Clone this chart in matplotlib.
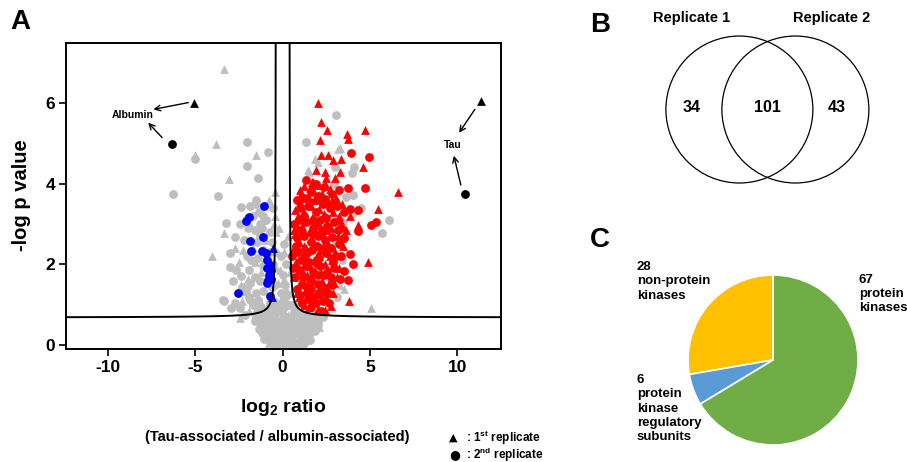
import numpy as np
import matplotlib
matplotlib.use("Agg")
import matplotlib.pyplot as plt
from matplotlib.patches import Circle

plt.rcParams['font.family'] = ['Liberation Sans', 'DejaVu Sans']
plt.rcParams['font.weight'] = 'bold'
plt.rcParams['axes.unicode_minus'] = False
plt.rcParams['mathtext.fontset'] = 'custom'
plt.rcParams['mathtext.rm'] = 'Liberation Sans:bold'
plt.rcParams['mathtext.it'] = 'Liberation Sans:bold'
plt.rcParams['mathtext.bf'] = 'Liberation Sans:bold'

# ---------------- Volcano data (log2 ratio, -log p) ----------------
# red = enriched with Tau, blue = enriched with albumin, gray = not significant
# triangles = 1st replicate, circles = 2nd replicate
red_tri_x = [2.02, 2.21, 2.53, 3.70, 3.73, 4.74, 2.15, 2.21, 2.59, 2.87, 3.35, 3.26, 2.40, 1.92, 4.59,
             2.50, 2.97, 1.73, 6.59, 0.97, 1.31, 0.69, 5.45, 4.30, 4.88, 3.79, 0.65, 1.66,
             1.20, 1.55, 2.05, 2.70, 1.00, 1.45, 1.80, 2.25, 2.60, 3.05, 3.40,
             0.85, 1.25, 1.70, 2.10, 2.45, 2.90, 3.30, 3.85,
             0.70, 1.10, 1.50, 1.90, 2.30, 2.75, 3.15, 3.60,
             0.60, 0.95, 1.35, 1.75, 2.15, 2.60, 3.00, 3.45,
             0.75, 1.15, 1.55, 1.95, 2.40, 2.80, 3.25,
             0.65, 1.00, 1.40, 1.80, 2.20, 2.65, 3.10,
             0.95, 1.30, 1.70, 2.10, 2.50, 2.90,
             1.50, 2.00, 2.40, 2.75,
             1.05, 1.65, 2.00, 2.35, 2.80, 1.40, 0.90, 1.60, 2.05, 2.50, 3.20, 1.20, 1.80,
             2.25, 2.70, 1.10, 1.50, 1.90, 0.80, 2.35, 1.25, 3.35, 2.95, 1.70, 2.40]
red_tri_y = [6.00, 5.53, 5.33, 5.24, 5.12, 5.33, 5.09, 4.71, 4.71, 4.59, 4.63, 4.30, 4.30, 4.34, 4.41,
             4.14, 4.14, 4.05, 3.80, 3.85, 3.64, 3.35, 3.37, 2.98, 2.05, 1.10, 2.85, 4.04,
             3.95, 3.90, 3.98, 3.88, 3.55, 3.70, 3.60, 3.75, 3.55, 3.65, 3.50,
             3.20, 3.30, 3.15, 3.38, 3.20, 3.30, 3.10, 3.20,
             2.75, 2.95, 2.80, 2.98, 2.75, 2.90, 2.70, 2.85,
             2.35, 2.55, 2.40, 2.58, 2.35, 2.50, 2.30, 2.45,
             2.05, 2.15, 1.95, 2.20, 2.00, 2.12, 1.90,
             1.70, 1.55, 1.75, 1.60, 1.78, 1.55, 1.70,
             1.20, 1.35, 1.15, 1.38, 1.20, 1.30,
             0.95, 0.90, 0.88, 0.97,
             3.75, 3.45, 3.05, 3.25, 3.60, 3.10, 2.90, 2.65, 2.45, 2.85, 3.20, 2.45, 2.10,
             1.60, 2.20, 1.85, 1.50, 1.30, 1.30, 1.35, 1.00, 2.65, 1.55, 3.90, 4.00]

red_circ_x = [3.92, 4.97, 3.73, 4.72, 3.83, 4.30, 5.35, 5.07, 3.54, 3.83, 4.02, 3.73, 4.30, 3.49,
              1.35, 1.90, 2.35, 0.80, 1.20, 1.60, 2.00, 2.45, 2.85, 3.20,
              1.00, 1.45, 1.90, 2.30, 2.70, 3.10, 3.50,
              0.65, 0.95, 1.35, 1.75, 2.15, 2.55, 2.95, 3.35,
              0.80, 1.20, 1.60, 2.00, 2.40, 2.80, 3.20,
              0.55, 0.90, 1.30, 1.70, 2.10, 2.50, 2.90, 3.35,
              0.60, 0.95, 1.35, 1.75, 2.15, 2.55, 2.95, 3.30,
              0.80, 1.20, 1.60, 2.00, 2.40, 2.80,
              1.10, 1.45, 1.90, 2.30, 2.65, 2.20,
              1.55, 2.15, 1.25, 1.75, 2.50, 1.10, 1.85, 2.25, 1.45, 1.95, 2.30, 2.75, 1.05,
              1.50, 1.95, 2.35, 1.15, 1.55, 2.00, 2.75, 1.00, 1.40, 1.75, 2.15, 2.60, 1.65,
              0.75, 0.70, 3.05, 3.15]
red_circ_y = [4.76, 4.67, 3.89, 3.89, 3.37, 3.35, 3.06, 2.98, 2.65, 2.27, 2.00, 1.61, 2.83, 1.83,
              4.10, 4.00, 3.92, 3.60, 3.65, 3.80, 3.70, 3.62, 3.75, 3.85,
              3.40, 3.45, 3.30, 3.50, 3.40, 3.45, 3.30,
              3.00, 3.10, 3.05, 2.90, 3.10, 2.95, 3.05, 2.90,
              2.65, 2.70, 2.55, 2.70, 2.60, 2.68, 2.50,
              2.20, 2.30, 2.20, 2.35, 2.15, 2.28, 2.05, 2.20,
              1.90, 1.85, 1.95, 1.80, 1.95, 1.80, 1.90, 1.65,
              1.40, 1.50, 1.40, 1.52, 1.42, 1.48,
              1.05, 1.15, 1.05, 1.10, 1.05, 0.85,
              3.55, 3.60, 3.20, 3.10, 3.15, 2.80, 2.75, 2.85, 2.30, 2.45, 2.40, 2.40, 2.10,
              2.05, 2.00, 1.75, 1.70, 1.65, 1.75, 1.70, 1.25, 1.30, 1.20, 1.25, 1.30, 0.95,
              2.45, 1.70, 2.20, 2.85]

blue_circ_x = [-2.53, -1.09, -1.92, -2.07, -1.12, -1.89, -1.79, -1.16, -0.97, -0.90, -0.74, -0.90,
               -0.65, -0.78, -0.84, -0.65, -0.90, -0.74]
blue_circ_y = [1.30, 3.46, 3.18, 3.08, 2.69, 2.59, 2.33, 2.34, 2.29, 2.11, 1.99, 1.90,
               1.86, 1.74, 1.61, 1.65, 1.55, 1.22]
blue_tri_x = [-0.55, -0.60]
blue_tri_y = [2.40, 1.20]

gray_tri_x = [-3.33, -3.83, -4.99, -3.09, -3.33, -4.06, -1.54, -0.46, -0.78, -2.36, -1.98, -2.46,
              -1.80, -1.00, -1.70, -2.50, -1.25, -0.85, -2.00, -1.35, -0.65, -1.90, -2.70, -0.50,
              1.83, 3.16, 1.45, 5.07, 3.26, 2.20, 1.50, 3.00, 3.50, 2.00, 3.30,
              -1.05, -0.55, -0.25, 0.05, 0.35, 0.65, 0.95, 1.25, 1.60, -0.15, 0.25, 0.55, 0.85,
              -0.60, 1.15, -0.05, 0.30, -0.85, 1.45, 2.10,
              0.05, -0.05, 0.20, 0.05, -0.15, 0.10, 0.30, -0.20, 0.25, -0.25,
              0.45, 0.60, 0.40, -0.45, -0.40, -0.40, -0.40,
              -0.90, -0.35, 0.15, 0.45, 0.80, 1.00, 1.35, 1.90, -1.25, -0.80, 0.05, -1.50,
              -2.30, -1.60, -2.25, -1.05, -1.40, -2.15]
gray_tri_y = [6.86, 4.99, 4.71, 4.12, 2.79, 2.20, 4.72, 3.79, 3.60, 1.49, 1.49, 0.66,
              2.95, 2.60, 2.40, 2.05, 1.80, 1.60, 1.65, 1.15, 1.25, 0.85, 2.40, 3.00,
              4.63, 4.86, 4.34, 0.93, 4.88, 3.85, 4.30, 2.60, 1.40, 4.55, 1.50,
              0.60, 0.45, 0.40, 0.50, 0.45, 0.42, 0.45, 0.45, 0.42, 0.25, 0.20, 0.22, 0.15,
              0.20, 0.20, 0.70, 0.75, 0.40, 0.65, 0.45,
              1.00, 1.20, 1.40, 1.65, 1.85, 2.30, 2.70, 2.90, 1.05, 1.55,
              1.30, 0.90, 1.80, 3.20, 2.80, 1.90, 1.10,
              0.75, 0.60, 0.35, 0.60, 0.65, 0.30, 0.30, 0.55, 0.50, 0.05, 0.05, 0.90,
              1.10, 2.05, 2.35, 2.10, 2.85, 3.15]

gray_circ_x = [-4.99, -6.30, -3.71, -3.22, -2.72, -3.03, -3.03, -2.84, -3.37, -2.04, -0.86, -2.04,
               -1.43, -1.54, -2.40, -1.89, -2.42, -1.31, -2.36, -2.30, -3.41, -2.93, -2.46, -2.07,
               -1.89, -1.41,
               -1.70, -1.35, -0.95, -1.60, -1.20, -0.70, -2.20, -1.45, -0.60, -2.05, -1.40, -1.15,
               -0.55, -1.95, -1.60, -1.30, -0.60, -1.85, -1.50, -1.10, -0.75, -1.70, -1.25, -2.15,
               -1.55, -0.95, -0.45, -0.45, -0.50,
               3.07, 1.31, 2.97, 3.98, 4.11, 4.50, 6.11, 5.70, 3.64, 4.02, 3.16, 4.02,
               2.95, 3.45, 3.40, 2.60, 1.30, 3.10,
               -1.30, -1.00, -0.70, -0.40, -0.10, 0.20, 0.50, 0.80, 1.10, 1.40, 1.70, 2.00,
               -1.20, -0.90, -0.60, -0.30, 0.00, 0.30, 0.60, 0.90, 1.20, 1.50, 1.85,
               -0.80, -0.50, -0.20, 0.10, 0.40, 0.70, 1.00, 1.30,
               -0.35, 0.15, 0.50,
               -1.45, -1.10, -0.75, -0.45, 0.70, 1.00, 1.30, 1.60, 2.30, 1.90,
               0.00, 0.10, -0.10, 0.15, 0.00, 0.20, -0.10, 0.10, 0.25, -0.15,
               0.50, 0.75,
               -1.00, -0.55, 0.10, 0.45, 1.20, 1.75, -1.35, -0.75, -0.15, 0.45, 0.75, 1.05,
               1.65, 2.05, -1.05, -0.65, -0.05, 0.25, 0.55, 0.85, 1.15, 1.55, -0.45, -0.20,
               -1.60, -0.25, 0.35, -1.90, -2.20, -1.80, -1.10, -0.75, -2.00, -1.15, -2.65,
               -2.70, -0.70, -1.30, -0.55, -1.55]
gray_circ_y = [4.61, 3.74, 3.69, 3.03, 2.67, 2.28, 1.94, 1.60, 1.10, 5.04, 4.79, 4.44,
               4.15, 3.60, 3.43, 3.45, 3.00, 3.00, 1.71, 1.45, 1.12, 0.91, 0.91, 1.32,
               1.12, 1.12,
               3.20, 3.30, 3.10, 2.85, 2.90, 2.80, 2.60, 2.55, 2.55, 2.20, 2.15, 1.95,
               2.00, 1.85, 1.70, 1.60, 1.45, 1.55, 1.30, 1.35, 1.05, 1.00, 0.95, 0.75,
               0.70, 0.80, 2.30, 1.50, 0.90,
               5.71, 5.05, 4.42, 4.26, 4.41, 3.39, 3.10, 2.77, 3.68, 3.72, 3.10, 3.27,
               4.00, 3.05, 2.10, 1.70, 0.90, 1.20,
               0.55, 0.45, 0.60, 0.50, 0.62, 0.55, 0.60, 0.50, 0.58, 0.50, 0.55, 0.60,
               0.30, 0.25, 0.35, 0.28, 0.38, 0.30, 0.35, 0.28, 0.33, 0.25, 0.35,
               0.10, 0.05, 0.12, 0.08, 0.15, 0.05, 0.12, 0.08,
               -0.02, -0.03, 0.00,
               0.80, 0.75, 0.85, 0.78, 0.80, 0.75, 0.82, 0.72, 0.70, 0.78,
               0.90, 1.10, 1.30, 1.50, 1.75, 2.00, 2.20, 2.50, 1.25, 1.00,
               1.00, 1.00,
               0.65, 0.70, 0.72, 0.70, 0.68, 0.65, 0.40, 0.45, 0.48, 0.45, 0.38, 0.42,
               0.35, 0.50, 0.15, 0.20, 0.22, 0.00, 0.25, 0.00, 0.00, 0.12, 0.30, 0.38,
               0.60, 0.85, 1.00, 1.20, 1.35, 2.10, 2.35, 2.30, 2.90, 3.20, 1.85,
               1.05, 0.95, 2.70, 3.40, 3.50]

# labelled proteins: triangle = 1st replicate, circle = 2nd replicate
albumin_tri = (-5.09, 6.02)
albumin_circ = (-6.34, 4.98)
tau_tri = (11.35, 6.06)
tau_circ = (10.46, 3.74)

# significance threshold curve parameters
s0 = 0.38
curv = 0.12
y_floor = 0.68

# ---------------- Venn / pie data ----------------
venn_counts = [34, 101, 43]
venn_labels = ["Replicate 1", "Replicate 2"]
pie_values = [28, 6, 67]
pie_colors = ["#FFC000", "#5B9BD5", "#70AD47"]
pie_texts = ["28\nnon-protein\nkinases",
             "6\nprotein\nkinase\nregulatory\nsubunits",
             "67\nprotein\nkinases"]

fig = plt.figure(figsize=(9.07, 4.62), dpi=100)

# ---------------- Panel A ----------------
ax = fig.add_axes([0.0728, 0.2446, 0.4796, 0.6624])
gray = "#BEBEBE"
ms = 40
ax.scatter(gray_circ_x, gray_circ_y, s=ms, marker='o', color=gray, linewidths=0, zorder=2)
ax.scatter(gray_tri_x, gray_tri_y, s=ms, marker='^', color=gray, linewidths=0, zorder=2)
ax.scatter(red_circ_x, red_circ_y, s=ms, marker='o', color='#FF0000', linewidths=0, zorder=3)
ax.scatter(red_tri_x, red_tri_y, s=ms, marker='^', color='#FF0000', linewidths=0, zorder=3)
ax.scatter(blue_circ_x, blue_circ_y, s=ms, marker='o', color='#0000FF', linewidths=0, zorder=3)
ax.scatter(blue_tri_x, blue_tri_y, s=ms, marker='^', color='#0000FF', linewidths=0, zorder=3)
ax.scatter([albumin_tri[0], tau_tri[0]], [albumin_tri[1], tau_tri[1]], s=ms, marker='^',
           color='black', linewidths=0, zorder=4)
ax.scatter([albumin_circ[0], tau_circ[0]], [albumin_circ[1], tau_circ[1]], s=ms, marker='o',
           color='black', linewidths=0, zorder=4)

# threshold curves
xr = np.linspace(s0 + 0.0005, 12.5, 3000)
yr = y_floor + curv / (xr - s0)
ax.plot(xr, yr, color='black', lw=1.4, zorder=5)
ax.plot(-xr, yr, color='black', lw=1.4, zorder=5)

# labels with arrows
arw = dict(arrowstyle='->', color='black', lw=1.0, shrinkA=0, shrinkB=0)
ax.text(-8.6, 5.7, "Albumin", fontsize=7.5, ha='center', va='center')
ax.annotate("", xy=(-7.4, 5.85), xytext=(-5.4, 6.02), arrowprops=arw)
ax.annotate("", xy=(-7.7, 5.52), xytext=(-6.9, 5.15), arrowprops=arw)
ax.text(9.75, 4.96, "Tau", fontsize=7.5, ha='center', va='center')
ax.annotate("", xy=(10.1, 5.27), xytext=(11.0, 5.85), arrowprops=arw)
ax.annotate("", xy=(9.8, 4.7), xytext=(10.2, 3.97), arrowprops=arw)

ax.set_xlim(-12.4, 12.5)
ax.set_ylim(-0.1, 7.5)
ax.set_xticks([-10, -5, 0, 5, 10])
ax.set_yticks([0, 2, 4, 6])
ax.tick_params(direction='out', length=5, width=1.2, labelsize=12.5, pad=3)
for lab in ax.get_xticklabels() + ax.get_yticklabels():
    lab.set_fontweight('bold')
for sp in ax.spines.values():
    sp.set_linewidth(1.4)

fig.text(0.024, 0.578, "-log p value", rotation=90, fontsize=14.5, ha='center', va='center')
fig.text(0.312, 0.117, r"log$_{2}$ ratio", fontsize=14, ha='center', va='center')
fig.text(0.306, 0.054, "(Tau-associated / albumin-associated)", fontsize=10.5, ha='center', va='center')
fig.text(0.4955, 0.052, "▲", fontsize=8, ha='left', va='center', family=['DejaVu Sans'])
fig.text(0.5135, 0.052, r": 1$^{st}$ replicate", fontsize=8.5, ha='left', va='center')
fig.text(0.4955, 0.016, "●", fontsize=9, ha='left', va='center', family=['DejaVu Sans'])
fig.text(0.5135, 0.016, r": 2$^{nd}$ replicate", fontsize=8.5, ha='left', va='center')

fig.text(0.022, 0.952, "A", fontsize=20, ha='center', va='center')
fig.text(0.6615, 0.946, "B", fontsize=20, ha='center', va='center')
fig.text(0.6615, 0.48, "C", fontsize=20, ha='center', va='center')

# ---------------- Panel B: Venn ----------------
axv = fig.add_axes([0.70, 0.58, 0.28, 0.42])
axv.set_xlim(0, 254)
axv.set_ylim(194, 0)
axv.set_aspect('equal')
axv.axis('off')
c1 = (739.5 - 635, 109.5)
c2 = (795.5 - 635, 109.5)
axv.add_patch(Circle(c1, 73.5, fill=False, lw=0.9, color='black'))
axv.add_patch(Circle(c2, 73.5, fill=False, lw=0.9, color='black'))
fig.text(0.763, 0.961, venn_labels[0], fontsize=10.5, ha='center', va='center')
fig.text(0.917, 0.961, venn_labels[1], fontsize=10.5, ha='center', va='center')
for xf, n in zip([0.762, 0.846, 0.923], venn_counts):
    fig.text(xf, 0.768, str(n), fontsize=11.5, ha='center', va='center')

# ---------------- Panel C: pie ----------------
axp = fig.add_axes([0.7586, 0.0368, 0.1874, 0.368])
axp.pie(pie_values, colors=pie_colors, startangle=90, counterclock=True,
        wedgeprops=dict(edgecolor='white', linewidth=1.2))
axp.set_xlim(-1, 1)
axp.set_ylim(-1, 1)
axp.set_aspect('equal')
fig.text(0.702, 0.435, pie_texts[0], fontsize=9.5, ha='left', va='top', linespacing=1.25)
fig.text(0.702, 0.19, pie_texts[1], fontsize=9.5, ha='left', va='top', linespacing=1.25)
fig.text(0.947, 0.408, pie_texts[2], fontsize=9.5, ha='left', va='top', linespacing=1.25)

fig.savefig("out.png", dpi=100)
